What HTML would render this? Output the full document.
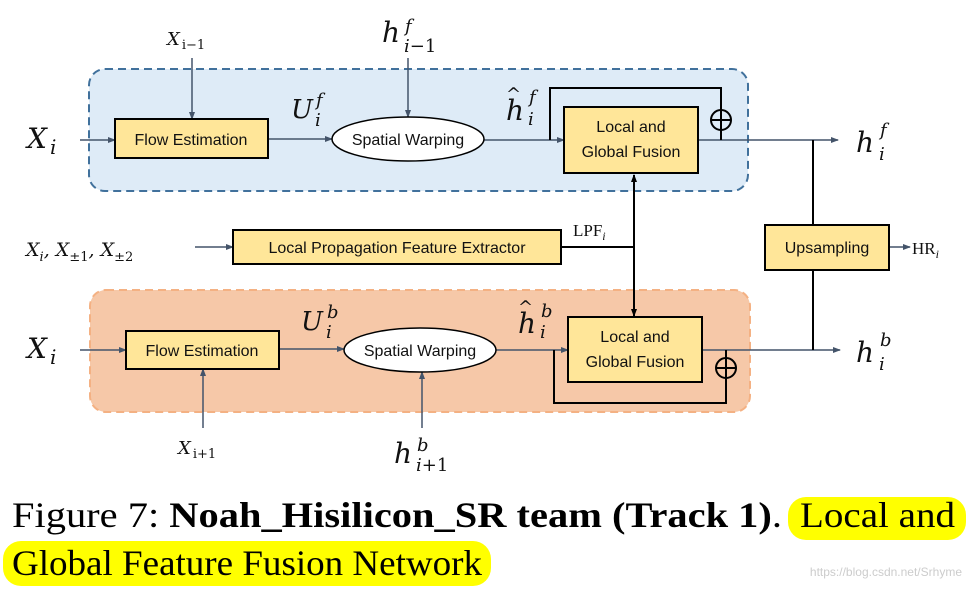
<!DOCTYPE html>
<html><head><meta charset="utf-8"><style>
html,body{margin:0;padding:0;background:#fff;}
svg{display:block}
.m{font-family:"DejaVu Serif","Liberation Serif",serif;font-style:italic;fill:#111}
.b{font-family:"Liberation Sans",sans-serif;font-size:16px;fill:#111}
.c{font-family:"Liberation Serif",serif;font-size:36px;fill:#000}
</style></head><body>
<svg width="973" height="590" viewBox="0 0 973 590" xmlns="http://www.w3.org/2000/svg">
<defs>
<marker id="a" markerWidth="8" markerHeight="8" refX="7" refY="4" orient="auto" markerUnits="userSpaceOnUse"><path d="M0,1 L8,4 L0,7 z" fill="#44546a"/></marker>
<marker id="k" markerWidth="8" markerHeight="8" refX="7" refY="4" orient="auto-start-reverse" markerUnits="userSpaceOnUse"><path d="M0,1 L8,4 L0,7 z" fill="#000"/></marker>
</defs>
<rect x="89" y="69" width="659" height="122" rx="16" fill="#deebf7" stroke="#41719c" stroke-width="2" stroke-dasharray="8,5"/>
<rect x="90" y="290" width="660" height="122" rx="16" fill="#f6c8a8" stroke="#f4b183" stroke-width="2" stroke-dasharray="8,5"/>
<g stroke="#44546a" stroke-width="1.5" fill="none">
<line x1="80" y1="140" x2="115" y2="140" marker-end="url(#a)"/>
<line x1="192" y1="58" x2="192" y2="119" marker-end="url(#a)"/>
<line x1="268" y1="139" x2="332" y2="139" marker-end="url(#a)"/>
<line x1="408" y1="58" x2="408" y2="117" marker-end="url(#a)"/>
<line x1="484" y1="140" x2="564" y2="140" marker-end="url(#a)"/>
<line x1="698" y1="140" x2="838" y2="140" marker-end="url(#a)"/>
<line x1="80" y1="350" x2="126" y2="350" marker-end="url(#a)"/>
<line x1="203" y1="428" x2="203" y2="369" marker-end="url(#a)"/>
<line x1="279" y1="349" x2="344" y2="349" marker-end="url(#a)"/>
<line x1="422" y1="428" x2="422" y2="372" marker-end="url(#a)"/>
<line x1="496" y1="350" x2="568" y2="350" marker-end="url(#a)"/>
<line x1="702" y1="350" x2="840" y2="350" marker-end="url(#a)"/>
<line x1="195" y1="247" x2="233" y2="247" marker-end="url(#a)"/>
<line x1="889" y1="247" x2="910" y2="247" marker-end="url(#a)"/>
</g>
<g stroke="#000" stroke-width="2" fill="none">
<polyline points="550,140 550,88 721,88 721,140"/>
<circle cx="721" cy="120" r="10" fill="none"/>
<line x1="711" y1="120" x2="731" y2="120"/>
<polyline points="554,350 554,403 726,403 726,350"/>
<circle cx="726" cy="368" r="10"/>
<line x1="716" y1="368" x2="736" y2="368"/>
<line x1="561" y1="247" x2="634" y2="247"/>
<line x1="634" y1="175" x2="634" y2="316" marker-start="url(#k)" marker-end="url(#k)"/>
<line x1="813" y1="140" x2="813" y2="225"/>
<line x1="813" y1="270" x2="813" y2="350"/>
</g>
<g fill="#ffe699" stroke="#000" stroke-width="2">
<rect x="115" y="119" width="153" height="39"/>
<rect x="564" y="107" width="134" height="66"/>
<rect x="126" y="331" width="153" height="38"/>
<rect x="568" y="317" width="134" height="65"/>
<rect x="233" y="230" width="328" height="34"/>
<rect x="765" y="225" width="124" height="45"/>
</g>
<ellipse cx="408" cy="139" rx="76" ry="22" fill="#fff" stroke="#000" stroke-width="1.5"/>
<ellipse cx="420" cy="350" rx="76" ry="22" fill="#fff" stroke="#000" stroke-width="1.5"/>
<g class="b" text-anchor="middle">
<text x="191" y="145">Flow Estimation</text>
<text x="408" y="145">Spatial Warping</text>
<text x="631" y="132">Local and</text>
<text x="631" y="157">Global Fusion</text>
<text x="202" y="356">Flow Estimation</text>
<text x="420" y="356">Spatial Warping</text>
<text x="635" y="342">Local and</text>
<text x="635" y="367">Global Fusion</text>
<text x="397" y="253">Local Propagation Feature Extractor</text>
<text x="827" y="253">Upsampling</text>
</g>
<g class="m">
<text x="27" y="148" font-size="28">X<tspan font-size="20" dx="3" dy="6">i</tspan></text>
<text x="27" y="358" font-size="28">X<tspan font-size="20" dx="3" dy="6">i</tspan></text>
<text x="167" y="45" font-size="18">X<tspan font-size="13" dx="2" dy="4" font-style="normal">i−1</tspan></text>
<text x="178" y="454" font-size="18">X<tspan font-size="13" dx="2" dy="4" font-style="normal">i+1</tspan></text>
<text x="382" y="42" font-size="28">h</text><text x="405" y="32" font-size="18">f</text><text x="404" y="52" font-size="18">i<tspan font-style="normal">−1</tspan></text>
<text x="394" y="463" font-size="28">h</text><text x="417" y="451" font-size="18">b</text><text x="416" y="471" font-size="18">i<tspan font-style="normal">+1</tspan></text>
<text x="291" y="118" font-size="26">U</text><text x="316" y="106" font-size="18">f</text><text x="315" y="126" font-size="18">i</text>
<text x="301" y="330" font-size="26">U</text><text x="327" y="318" font-size="18">b</text><text x="326" y="338" font-size="18">i</text>
<text x="506" y="120" font-size="28">h</text><text x="506" y="100" font-size="18" font-style="normal">^</text><text x="529" y="103" font-size="18">f</text><text x="528" y="125" font-size="18">i</text>
<text x="518" y="333" font-size="28">h</text><text x="518" y="313" font-size="18" font-style="normal">^</text><text x="541" y="317" font-size="18">b</text><text x="540" y="338" font-size="18">i</text>
<text x="856" y="152" font-size="28">h</text><text x="880" y="136" font-size="18">f</text><text x="879" y="160" font-size="18">i</text>
<text x="856" y="362" font-size="28">h</text><text x="880" y="346" font-size="18">b</text><text x="879" y="370" font-size="18">i</text>
<text x="26" y="256" font-size="19">X<tspan font-size="13" dy="5">i</tspan><tspan dy="-5">, X</tspan><tspan font-size="13" dy="5" font-style="normal">±1</tspan><tspan dy="-5">, X</tspan><tspan font-size="13" dy="5" font-style="normal">±2</tspan></text>
</g>
<text x="573" y="236" font-family="Liberation Serif,serif" font-size="17" fill="#111">LPF<tspan font-style="italic" font-size="12" dy="4">i</tspan></text>
<text x="912" y="254" font-family="Liberation Serif,serif" font-size="17" fill="#111">HR<tspan font-style="italic" font-size="12" dy="4">i</tspan></text>
<rect x="788" y="497" width="178" height="43" rx="18" fill="#ffff00"/>
<rect x="3" y="541" width="488" height="45" rx="18" fill="#ffff00"/>
<text class="c" x="12" y="527" textLength="770" lengthAdjust="spacingAndGlyphs">Figure 7: <tspan font-weight="bold">Noah_Hisilicon_SR team (Track 1)</tspan>.</text>
<text class="c" x="800" y="527" textLength="155" lengthAdjust="spacingAndGlyphs">Local and</text>
<text class="c" x="12" y="575" textLength="470" lengthAdjust="spacingAndGlyphs">Global Feature Fusion Network</text>
<text x="962" y="576" text-anchor="end" font-family="Liberation Sans,sans-serif" font-size="12" fill="#ccc">https://blog.csdn.net/Srhyme</text>
</svg>
</body></html>
